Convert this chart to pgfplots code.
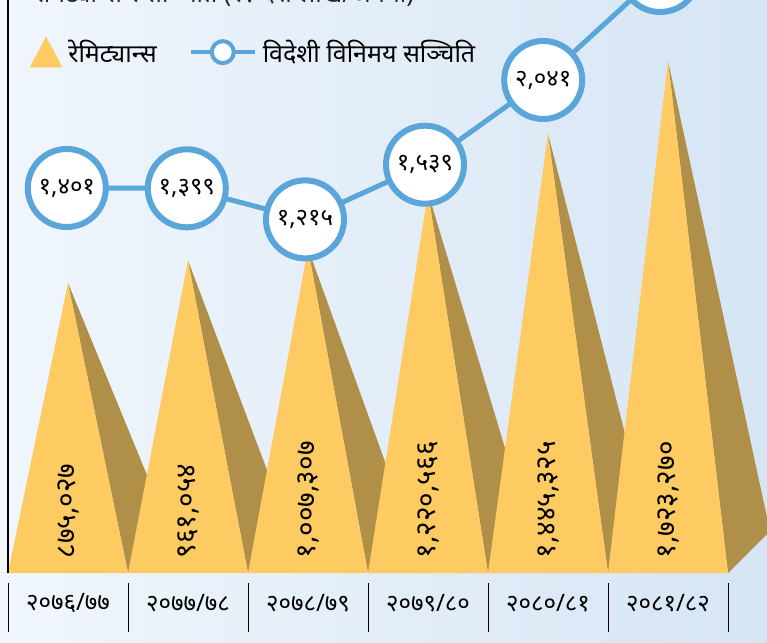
\documentclass[border=0pt]{standalone}
\usepackage{pgfplots}
\pgfplotsset{compat=1.18}
\usepackage{pgfplotstable}
\usepackage{fontspec}
\setmainfont{Noto Sans}
\newfontfamily\deva[Script=Devanagari]{Noto Sans}
\definecolor{pyfront}{RGB}{254,203,99}
\definecolor{pyside}{RGB}{176,143,72}
\definecolor{fxblue}{RGB}{90,165,218}
\definecolor{bgl}{RGB}{240,246,252}
\definecolor{bgr}{RGB}{214,229,244}

\pgfplotstableread{
x remit lab
0 875027 ८७५,०२७
1 961054 ९६१,०५४
2 1007307 १,००७,३०७
3 1220566 १,२२०,५६६
4 1445325 १,४४५,३२५
5 1723270 १,७२३,२७०
}\remit

\pgfplotstableread{
x fx lab
-0.01 1401 १,४०१
0.99 1399 १,३९९
1.975 1215 १,२१५
2.975 1539 १,५३९
3.96 2041 २,०४१
4.935 2675 २,६७५
}\forex

\begin{document}
\begin{tikzpicture}
\useasboundingbox (0pt,0pt) rectangle (767pt,642pt);
\clip (0pt,0pt) rectangle (767pt,642pt);
\shade[left color=bgl, right color=bgr] (0pt,0pt) rectangle (767pt,642pt);
\node[anchor=base west, font=\deva\fontsize{25}{25}\selectfont, text=black!85] at (30pt,639pt) {रेमिट्यान्स र सञ्चिति (रु. दश लाख/अर्बमा)};

\begin{axis}[
  at={(8pt,69pt)}, anchor=south west,
  width=720pt, height=573pt, scale only axis,
  xmin=-0.5, xmax=5.5, ymin=-232600, ymax=1956100,
  clip=false,
  axis line style={draw=none}, tick style={draw=none},
  ytick=\empty,
  xtick={0,1,2,3,4,5},
  xticklabels={२०७६/७७, २०७७/७८, २०७८/७९, २०७९/८०, २०८०/८१, २०८१/८२},
  xticklabel style={font=\deva\fontsize{24}{24}\selectfont, anchor=center, yshift=-30pt, text=black},
]
% pyramid 1
\addplot[fill=pyside, draw=none] coordinates {(0,875027) (0.5,-232600) (0.85,-72200)};
\addplot[fill=pyfront, draw=none] coordinates {(-0.5,-232600) (0,875027) (0.5,-232600)};
% pyramid 2
\addplot[fill=pyside, draw=none] coordinates {(1,961054) (1.5,-232600) (1.85,-72200)};
\addplot[fill=pyfront, draw=none] coordinates {(0.5,-232600) (1,961054) (1.5,-232600)};
% pyramid 3
\addplot[fill=pyside, draw=none] coordinates {(2,1007307) (2.5,-232600) (2.85,-72200)};
\addplot[fill=pyfront, draw=none] coordinates {(1.5,-232600) (2,1007307) (2.5,-232600)};
% pyramid 4
\addplot[fill=pyside, draw=none] coordinates {(3,1220566) (3.5,-232600) (3.85,-72200)};
\addplot[fill=pyfront, draw=none] coordinates {(2.5,-232600) (3,1220566) (3.5,-232600)};
% pyramid 5
\addplot[fill=pyside, draw=none] coordinates {(4,1445325) (4.5,-232600) (4.85,-72200)};
\addplot[fill=pyfront, draw=none] coordinates {(3.5,-232600) (4,1445325) (4.5,-232600)};
% pyramid 6
\addplot[fill=pyside, draw=none] coordinates {(5,1723270) (5.5,-232600) (5.85,-72200)};
\addplot[fill=pyfront, draw=none] coordinates {(4.5,-232600) (5,1723270) (5.5,-232600)};
% value labels
\addplot[draw=none, mark=none, nodes near coords, point meta=explicit symbolic,
  every node near coord/.append style={rotate=90, anchor=west, text=black, font=\deva\fontsize{28}{28}\selectfont}]
  table[x=x, y expr=-190000, meta=lab] {\remit};
% frame lines
\draw[black, line width=1.2pt] (axis cs:-0.5,-232600) -- (axis cs:-0.5,1990000);
\pgfplotsinvokeforeach{-0.5,0.5,1.5,2.5,3.5,4.5,5.5}{
  \draw[black, line width=0.9pt] (axis cs:#1,-270800) -- (axis cs:#1,-457700);
}
\end{axis}

\begin{axis}[
  at={(8pt,69pt)}, anchor=south west,
  width=720pt, height=573pt, scale only axis,
  xmin=-0.5, xmax=5.5, ymin=-880.5, ymax=2515,
  clip=false, hide axis,
  legend style={at={(0.026,0.909)}, anchor=west, draw=none, fill=none,
    font=\deva\fontsize{25}{25}\selectfont, legend columns=2,
    /tikz/every odd column/.append style={column sep=4pt},
    /tikz/every even column/.append style={column sep=30pt}},
  legend cell align=left,
]
\addlegendimage{legend image code/.code={\fill[pyfront] (0pt,-15pt) -- (16pt,15pt) -- (32pt,-15pt) -- cycle;}}
\addlegendentry{रेमिट्यान्स}
\addlegendimage{legend image code/.code={\draw[fxblue, line width=4pt] (0pt,0pt) -- (64pt,0pt); \draw[fxblue, line width=4pt, fill=white] (32pt,0pt) circle (11pt);}}
\addlegendentry{विदेशी विनिमय सञ्चिति}
\addplot[fxblue, line width=5pt, mark=*, mark size=39pt,
  mark options={fill=white, draw=fxblue, line width=6pt},
  nodes near coords, point meta=explicit symbolic,
  every node near coord/.append style={anchor=center, text=black, font=\deva\fontsize{24}{24}\selectfont}]
  table[x=x, y=fx, meta=lab] {\forex};
\end{axis}
\end{tikzpicture}
\end{document}
